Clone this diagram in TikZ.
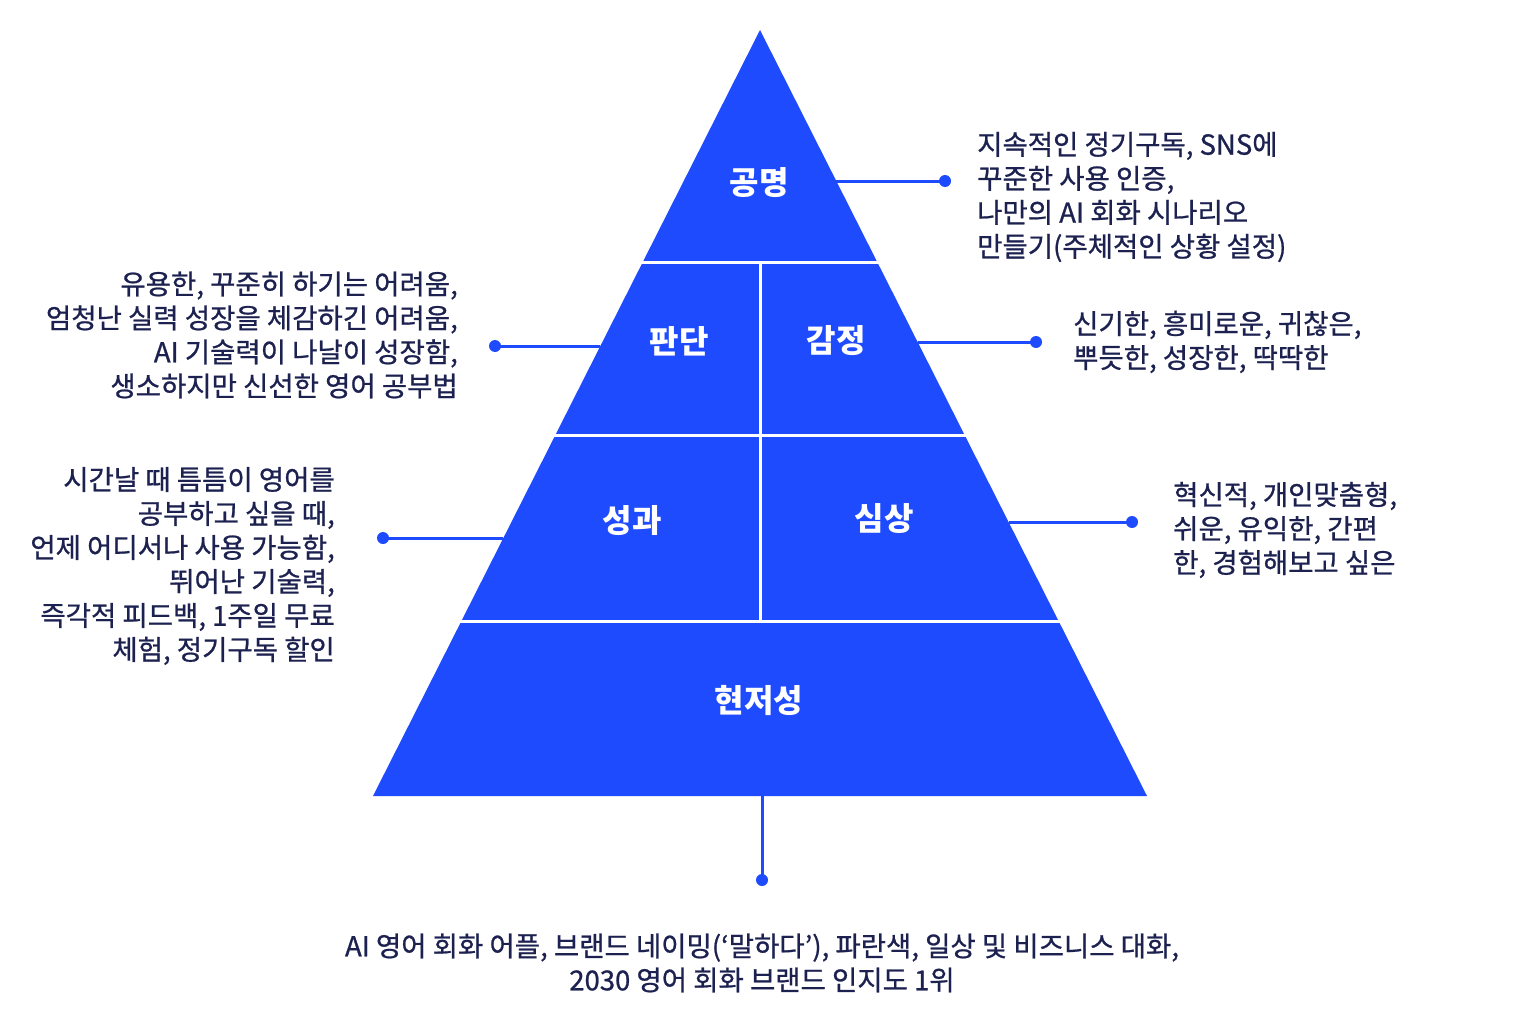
\documentclass[tikz,border=0pt]{standalone}
\usepackage{fontspec}
\setmainfont{Noto Sans CJK KR}
\newfontfamily\descfont{Noto Sans CJK KR}[RawFeature={embolden=0.8}]
\definecolor{pblue}{HTML}{1F4BFF}
\definecolor{ink}{HTML}{1C2150}
\begin{document}
\begin{tikzpicture}[x=1pt,y=-1pt,
  lbl/.style={text=white,font=\fontsize{32}{36}\selectfont\bfseries,inner sep=0pt},
  desc/.style={text=ink,font=\descfont\fontsize{27.5}{34}\selectfont,inner sep=0pt},
  dot/.style={circle,fill=pblue,inner sep=0pt,minimum size=12pt},
  conn/.style={pblue,line width=3pt},
  sep/.style={white,line width=3pt}]
\useasboundingbox[fill=white] (0,0) rectangle (1518,1014);
% pyramid
\coordinate (apex) at (760,30);
\coordinate (bl) at (373,796);
\coordinate (br) at (1147,796);
\fill[pblue] (apex) -- (br) -- (bl) -- cycle;
\coordinate (s1l) at (600,262); \coordinate (s1r) at (920,262);
\coordinate (s2l) at (500,435); \coordinate (s2r) at (1020,435);
\coordinate (s3l) at (400,621); \coordinate (s3r) at (1120,621);
\coordinate (vt) at (760,262); \coordinate (vb) at (760,621);
\draw[sep] (s1l) -- (s1r);
\draw[sep] (s2l) -- (s2r);
\draw[sep] (s3l) -- (s3r);
\draw[sep] (vt) -- (vb);
% level labels
\node[lbl] (gm) at (759,183) {공명};
\node[lbl] (pd) at (679,341) {판단};
\node[lbl] (gj) at (836,341) {감정};
\node[lbl] (sg) at (632,521) {성과};
\node[lbl] (ss) at (884,519) {심상};
\node[lbl] (hj) at (759,700) {현저성};
% connector anchors on pyramid edges
\coordinate (e1) at (836,181);
\coordinate (e2) at (600,346);
\coordinate (e3) at (918,342);
\coordinate (e4) at (503,538);
\coordinate (e5) at (1009,522);
\coordinate (e6) at (762,796);
% dots
\node[dot] (d1) at (945,181) {};
\node[dot] (d2) at (495,346) {};
\node[dot] (d3) at (1036,342) {};
\node[dot] (d4) at (383,538) {};
\node[dot] (d5) at (1132,522) {};
\node[dot] (d6) at (762,880) {};
\draw[conn] (e1) -- (d1.center);
\draw[conn] (e2) -- (d2.center);
\draw[conn] (e3) -- (d3.center);
\draw[conn] (e4) -- (d4.center);
\draw[conn] (e5) -- (d5.center);
\draw[conn] (e6) -- (d6.center);
% descriptions
\node[desc,align=left,anchor=west] (t1) at (977,197) {지속적인 정기구독, SNS에\\꾸준한 사용 인증,\\나만의 AI 회화 시나리오\\만들기(주체적인 상황 설정)};
\node[desc,align=right,anchor=east] (t2) at (458,335) {유용한, 꾸준히 하기는 어려움,\\엄청난 실력 성장을 체감하긴 어려움,\\AI 기술력이 나날이 성장함,\\생소하지만 신선한 영어 공부법};
\node[desc,align=left,anchor=west] (t3) at (1073,342) {신기한, 흥미로운, 귀찮은,\\뿌듯한, 성장한, 딱딱한};
\node[desc,align=right,anchor=east] (t4) at (335,566) {시간날 때 틈틈이 영어를\\공부하고 싶을 때,\\언제 어디서나 사용 가능함,\\뛰어난 기술력,\\즉각적 피드백, 1주일 무료\\체험, 정기구독 할인};
\node[desc,align=left,anchor=west] (t5) at (1173,530) {혁신적, 개인맞춤형,\\쉬운, 유익한, 간편\\한, 경험해보고 싶은};
\node[desc,align=center] (t6) at (762,963) {AI 영어 회화 어플, 브랜드 네이밍(‘말하다’), 파란색, 일상 및 비즈니스 대화,\\2030 영어 회화 브랜드 인지도 1위};
\end{tikzpicture}
\end{document}
